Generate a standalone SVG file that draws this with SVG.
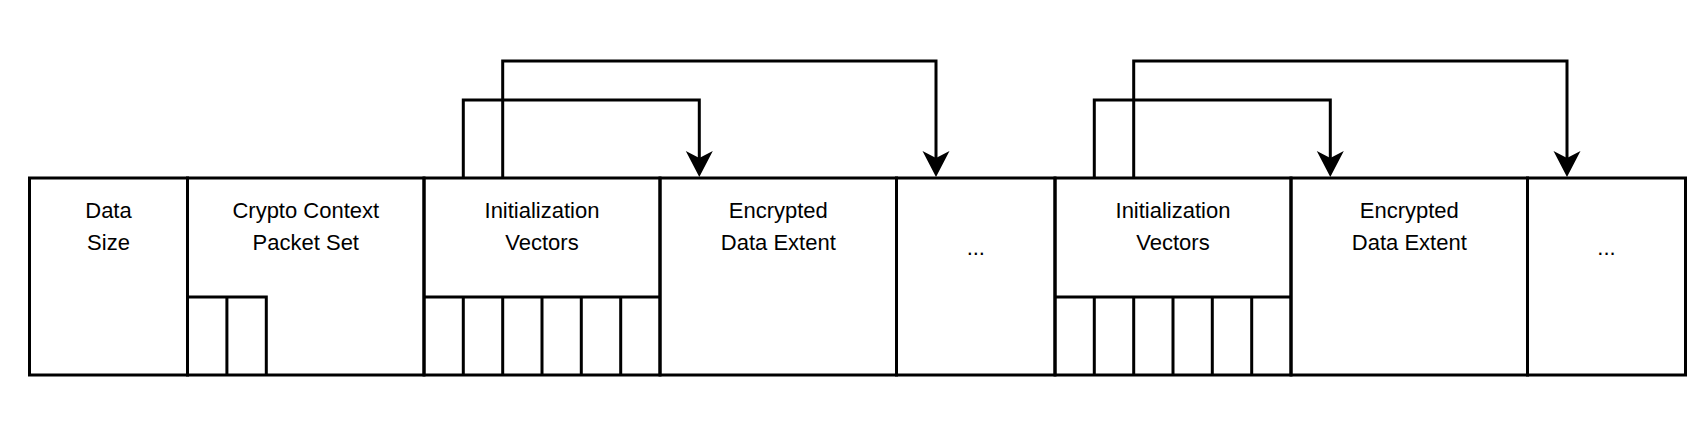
<svg xmlns="http://www.w3.org/2000/svg" width="1700" height="434" viewBox="0 0 1700 434">
<style>
.s{fill:none;stroke:#000;stroke-width:3}
.c{fill:none;stroke:#000;stroke-width:3;stroke-linejoin:miter}
.t{font-family:"Liberation Sans",Arial,sans-serif;font-size:22px;fill:#000;text-anchor:middle}
</style>
<defs>
<marker id="ah" markerUnits="userSpaceOnUse" orient="auto" markerWidth="40" markerHeight="40" refX="0" refY="0" viewBox="-10 -20 40 40" overflow="visible">
<path d="M19,0 L-7,-13.5 L0,0 L-7,13.5 Z" fill="#000" stroke="none"/>
</marker>
</defs>
<rect width="1700" height="434" fill="#fff"/>
<g id="data-size">
<rect class="s" x="29.5" y="178" width="158" height="197"/>
<text class="t" x="108.5" y="218">Data</text>
<text class="t" x="108.5" y="250">Size</text>
</g>
<g id="crypto-context">
<rect class="s" x="187.5" y="178" width="236.5" height="197"/>
<path class="s" d="M187.5,297 H266.3 V375 M226.9,297 V375"/>
<text class="t" x="305.8" y="218">Crypto Context</text>
<text class="t" x="305.8" y="250">Packet Set</text>
</g>
<g id="iv1">
<rect class="s" x="424" y="178" width="236" height="197"/>
<path class="s" d="M424,297 H660 M463.3,297 V375 M502.7,297 V375 M542,297 V375 M581.3,297 V375 M620.7,297 V375"/>
<text class="t" x="542" y="218">Initialization</text>
<text class="t" x="542" y="250">Vectors</text>
</g>
<g id="enc1">
<rect class="s" x="660" y="178" width="236.5" height="197"/>
<text class="t" x="778.3" y="218">Encrypted</text>
<text class="t" x="778.3" y="250">Data Extent</text>
</g>
<g id="more1">
<rect class="s" x="896.5" y="178" width="158.5" height="197"/>
<text class="t" x="975.8" y="255">...</text>
</g>
<g id="iv2">
<rect class="s" x="1055" y="178" width="236" height="197"/>
<path class="s" d="M1055,297 H1291 M1094.3,297 V375 M1133.7,297 V375 M1173,297 V375 M1212.3,297 V375 M1251.7,297 V375"/>
<text class="t" x="1173" y="218">Initialization</text>
<text class="t" x="1173" y="250">Vectors</text>
</g>
<g id="enc2">
<rect class="s" x="1291" y="178" width="236.5" height="197"/>
<text class="t" x="1409.3" y="218">Encrypted</text>
<text class="t" x="1409.3" y="250">Data Extent</text>
</g>
<g id="more2">
<rect class="s" x="1527.5" y="178" width="158" height="197"/>
<text class="t" x="1606.5" y="255">...</text>
</g>
<g id="connectors">
<path class="c" d="M463.3,178 V100 H699.3 V158" marker-end="url(#ah)"/>
<path class="c" d="M502.7,178 V61 H936 V158" marker-end="url(#ah)"/>
<path class="c" d="M1094.3,178 V100 H1330.3 V158" marker-end="url(#ah)"/>
<path class="c" d="M1133.7,178 V61 H1567 V158" marker-end="url(#ah)"/>
</g>
</svg>
